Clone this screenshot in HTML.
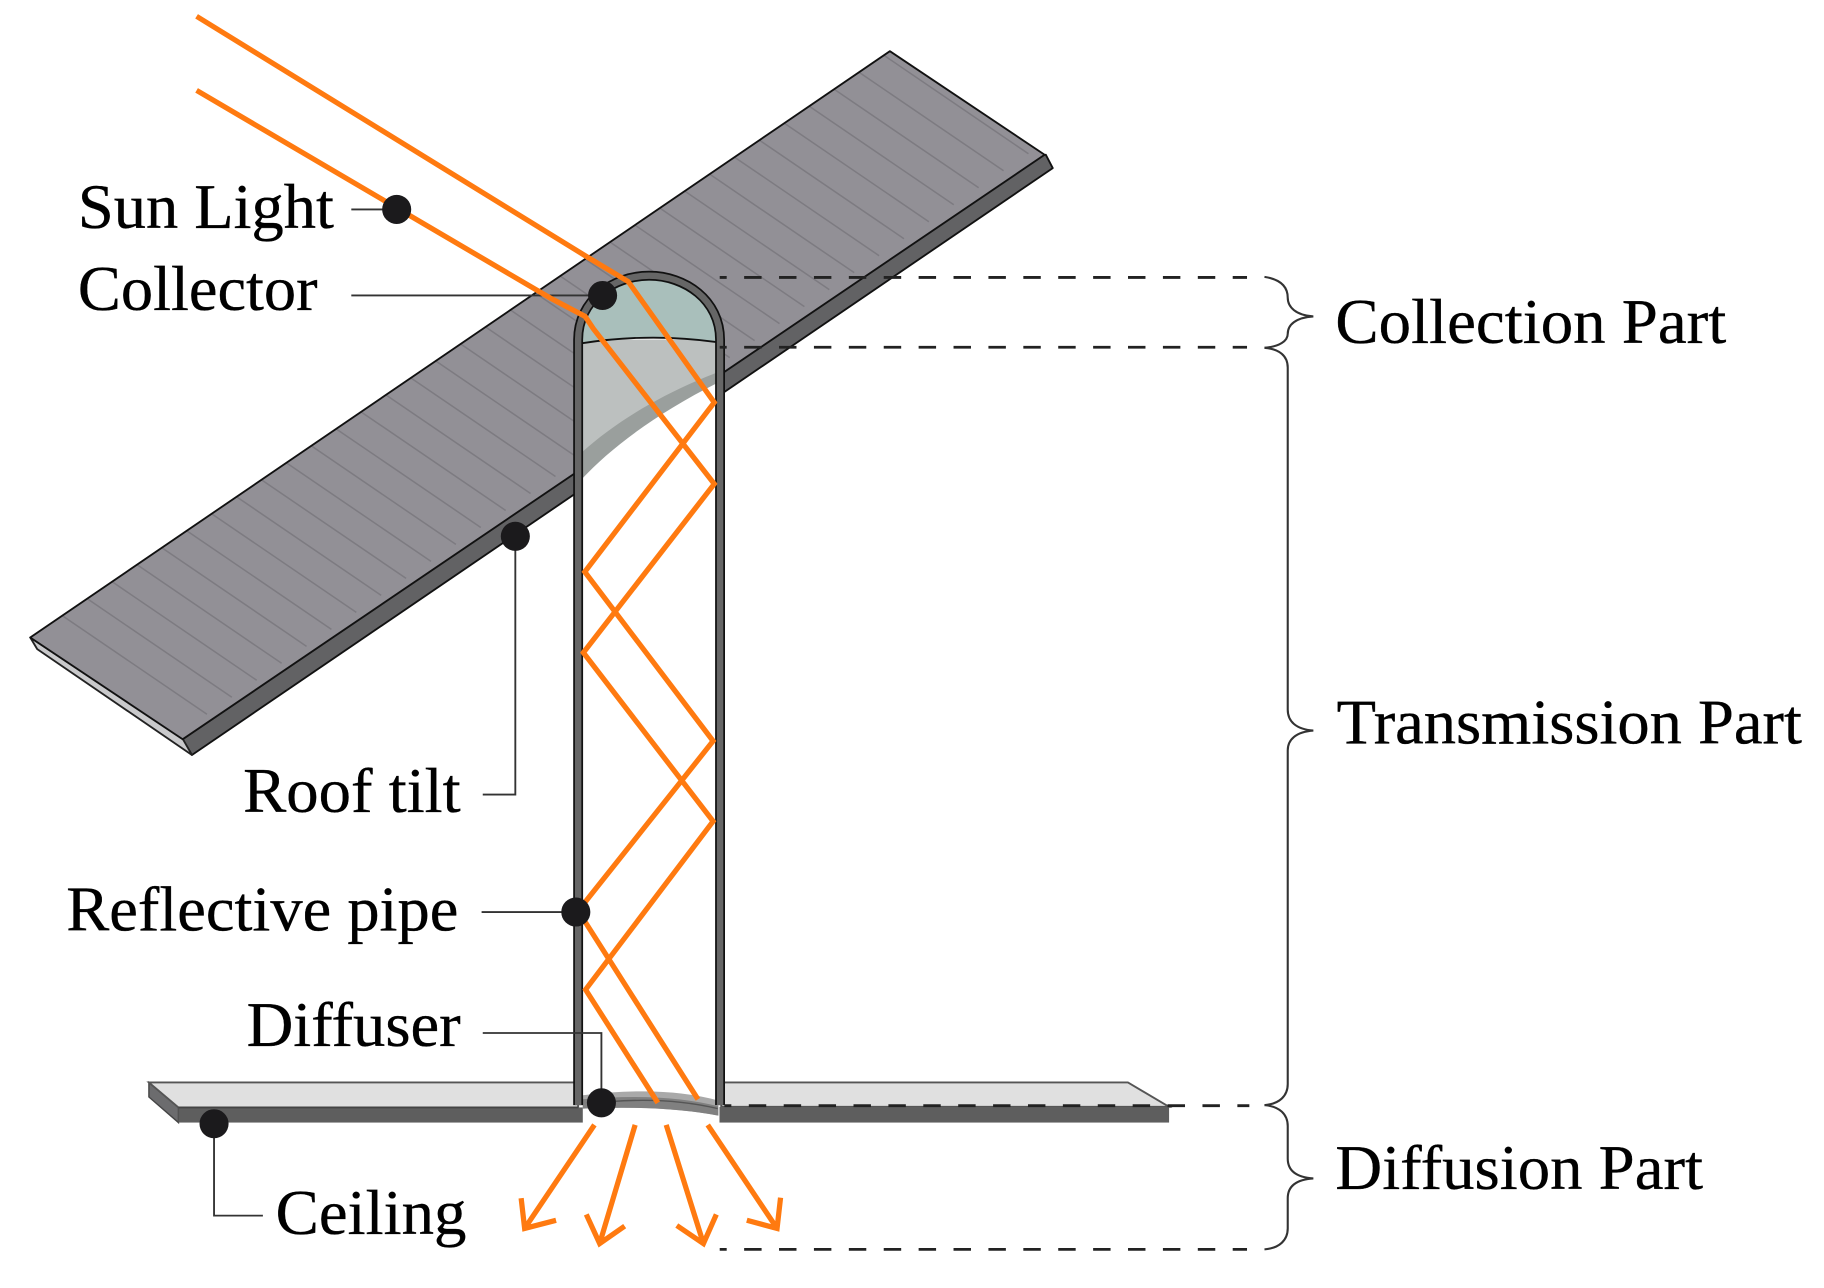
<!DOCTYPE html>
<html>
<head>
<meta charset="utf-8">
<style>
html,body{margin:0;padding:0;background:#fff;width:1824px;height:1288px;overflow:hidden}
svg{display:block}
text{font-family:"Liberation Serif",serif;font-size:55px;fill:#000;stroke:#000;stroke-width:.3}
</style>
</head>
<body>
<svg width="1824" height="1288" viewBox="0 0 1568 1107.2" xmlns="http://www.w3.org/2000/svg">
<defs>
<clipPath id="rc"><polygon points="26,548 765,44 898,133 157,635.5"/></clipPath>
</defs>
<rect width="1568" height="1108" fill="#fff"/>

<!-- Roof -->
<polygon points="157,635.5 896,133.5 899,133 905,144.5 165,649" fill="#626264" stroke="#111" stroke-width="1.6" stroke-linejoin="round"/>
<polygon points="26,548 157,635 165,649 32,558" fill="#c9c9cb" stroke="#222" stroke-width="1.6" stroke-linejoin="round"/>
<polygon points="26,548 765,44 898,133 157,635.5" fill="#929096"/>
<path clip-path="url(#rc)" fill="none" stroke="#7d7b81" stroke-width="1.3" d="M53.2 529l124.7 85m-103.3-99.6l124.7 85m-103.3-99.6l124.7 85m-103.3-99.6l124.7 85m-103.3-99.6l124.7 85m-103.3-99.6l124.7 85m-103.3-99.6l124.7 85m-103.3-99.6l124.7 85m-103.3-99.6l124.7 85m-103.3-99.6l124.7 85m-103.3-99.6l124.7 85m-103.3-99.6l124.7 85m-103.3-99.6l124.7 85m-103.3-99.6l124.7 85m-103.3-99.6l124.7 85m-103.3-99.6l124.7 85m-103.3-99.6l124.7 85m-103.3-99.6l124.7 85m-103.3-99.6l124.7 85m-103.3-99.6l124.7 85m-103.3-99.6l124.7 85m-103.3-99.6l124.7 85m-103.3-99.6l124.7 85m-103.3-99.6l124.7 85m-103.3-99.6l124.7 85m-103.3-99.6l124.7 85m-103.3-99.6l124.7 85m-103.3-99.6l124.7 85m-103.3-99.6l124.7 85m-103.3-99.6l124.7 85m-103.3-99.6l124.7 85m-103.3-99.6l124.7 85m-103.3-99.6l124.7 85m-103.3-99.6l124.7 85"/>
<polygon points="26,548 765,44 898,133 157,635.5" fill="none" stroke="#111" stroke-width="1.6" stroke-linejoin="round"/>

<!-- Ceiling -->
<polygon points="128,930.5 153.4,952 153.4,965 128,943" fill="#6c6c6e" stroke="#444" stroke-width="1.2"/>
<polygon points="128,930.5 497,930.5 497,952 153.4,952" fill="#e0e0e0" stroke="#555" stroke-width="1.6"/>
<rect x="153.4" y="952" width="347.6" height="13" fill="#5e5e5e"/>
<path d="M153.4 952H497" stroke="#444" stroke-width="1.6"/>
<polygon points="620,930.5 969.6,930.5 1005,951.5 620,951.5" fill="#e0e0e0" stroke="#555" stroke-width="1.6"/>
<rect x="618.5" y="951.5" width="386.5" height="13.5" fill="#5e5e5e"/>

<!-- Pipe interior -->
<path d="M497 950V292C497 258 527 237 558 237C589 237 619 258 619 292V950Z" fill="#fff"/>
<path d="M500 412C525 385 565 355 617 329V292H500Z" fill="#9a9f9d"/>
<path d="M500 389C530 362 570 338 617 320V292H500Z" fill="#bcc0bf"/>
<path d="M500.6 295C500.6 262 528 238 558 238C590 238 616 262 616 294Q558 286 500.6 295Z" fill="#a9bfbb"/>
<path d="M500.6 295Q558 286 616 294" fill="none" stroke="#111" stroke-width="1.6"/>

<!-- Diffuser -->
<path d="M501 941.5Q570 933 617.5 946V959Q570 950 501 953Z" fill="#a9a9a9"/>
<path d="M501 945Q570 939 617.5 951V959Q570 950 501 953Z" fill="#808080"/>
<path d="M525 947Q575 943 617 953" fill="none" stroke="#555" stroke-width="1.2"/>

<!-- Pipe walls -->
<path d="M497 950V292C497 258 527 237 558 237C589 237 619 258 619 292V950" fill="none" stroke="#111" stroke-width="8.5"/>
<path d="M497 950V292C497 258 527 237 558 237C589 237 619 258 619 292V950" fill="none" stroke="#666" stroke-width="5.5"/>

<!-- Leaders -->
<g fill="none" stroke="#333" stroke-width="1.6">
<path d="M302 180H330"/>
<path d="M302 254H506"/>
<path d="M443 470V683H415"/>
<path d="M414 784H484"/>
<path d="M415 888H517V940"/>
<path d="M184 975V1045H226"/>
</g>

<!-- Dashes -->
<g fill="none" stroke="#222" stroke-width="2.4" stroke-dasharray="15 15" stroke-dashoffset="9">
<path d="M618.7 238.5H1072"/>
<path d="M618.7 298.5H1072"/>
<path d="M622.7 950.5H1074"/>
<path d="M618.7 1074H1072"/>
</g>

<!-- Braces -->
<g fill="none" stroke="#333" stroke-width="1.8">
<path d="M1087 238C1100 240 1107 246 1107 256C1107 264 1114 271 1129 272C1114 273 1107 279 1107 287C1107 293 1100 298 1087 299"/>
<path d="M1087 299C1100 300 1107 306 1107 316V610C1107 620 1114 627 1129 628C1114 629 1107 636 1107 645V932C1107 942 1100 949 1087 950"/>
<path d="M1087 950C1100 951 1107 958 1107 968V996C1107 1006 1114 1012 1129 1013C1114 1014 1107 1020 1107 1030V1056C1107 1066 1100 1073 1087 1074"/>
</g>

<!-- Rays -->
<g fill="none" stroke="#ff7a10" stroke-width="4.5" stroke-linejoin="miter">
<path d="M169 14L505 221L540 242L614 346L502.7 491.6L613 637L497 783L600 945"/>
<path d="M169 77.7L472.7 256L503 272L510 282.5L614 416L501.5 561L613 706L503.4 850.7L565.5 948"/>
<path d="M511 967L451 1056M448 1030L451 1056L478 1049"/>
<path d="M546 967L515.5 1069M504 1044L515.5 1069L537 1054"/>
<path d="M572.7 967L604.7 1069M581.8 1053.5L604.7 1069L615.8 1044"/>
<path d="M608.4 967L668 1056M642 1049L668 1056L671 1029.6"/>
</g>

<!-- Dots -->
<g fill="#1b1a1c">
<circle cx="341" cy="180" r="12.5"/>
<circle cx="518" cy="254" r="12.5"/>
<circle cx="443" cy="461" r="12.5"/>
<circle cx="495" cy="784" r="12.5"/>
<circle cx="517" cy="948" r="12.5"/>
<circle cx="184" cy="966" r="12.5"/>
</g>

<!-- Labels -->
<text x="67" y="196" textLength="220" lengthAdjust="spacingAndGlyphs">Sun Light</text>
<text x="67" y="266.5" textLength="206" lengthAdjust="spacingAndGlyphs">Collector</text>
<text x="209" y="698" textLength="187" lengthAdjust="spacingAndGlyphs">Roof tilt</text>
<text x="57" y="800" textLength="337" lengthAdjust="spacingAndGlyphs">Reflective pipe</text>
<text x="212" y="899" textLength="184" lengthAdjust="spacingAndGlyphs">Diffuser</text>
<text x="237" y="1061" textLength="164" lengthAdjust="spacingAndGlyphs">Ceiling</text>
<text x="1148" y="295" textLength="336" lengthAdjust="spacingAndGlyphs">Collection Part</text>
<text x="1149" y="639" textLength="400" lengthAdjust="spacingAndGlyphs">Transmission Part</text>
<text x="1148" y="1022" textLength="316" lengthAdjust="spacingAndGlyphs">Diffusion Part</text>
</svg>
</body>
</html>
